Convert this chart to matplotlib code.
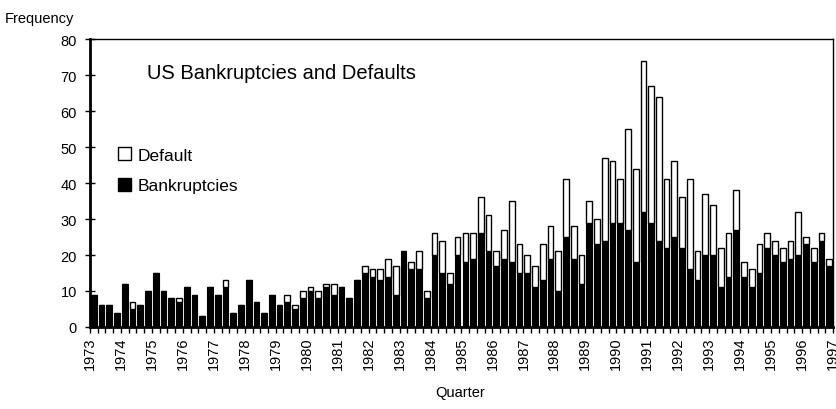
import matplotlib
matplotlib.use("Agg")
import matplotlib.pyplot as plt
from matplotlib.patches import Patch

plt.rcParams["font.family"] = ["Liberation Sans", "DejaVu Sans"]

# Quarterly counts, 1973Q1 .. 1996Q4
years = list(range(1973, 1998))

bankruptcies = [
    9, 6, 6, 4, 12, 5, 6, 10, 15, 10, 8, 7, 11, 9, 3, 11,
    9, 11, 4, 6, 13, 7, 4, 9, 6, 7, 5, 8, 10, 8, 11, 9,
    11, 8, 13, 15, 14, 13, 14, 9, 21, 16, 16, 8, 20, 15, 12, 20,
    18, 19, 26, 21, 17, 19, 18, 15, 15, 11, 13, 19, 10, 25, 19, 12,
    29, 23, 24, 29, 29, 27, 18, 32, 29, 24, 22, 25, 22, 16, 13, 20,
    20, 11, 14, 27, 14, 11, 15, 22, 20, 18, 19, 20, 23, 18, 24, 17,
]

defaults = [
    0, 0, 0, 0, 0, 2, 0, 0, 0, 0, 0, 1, 0, 0, 0, 0,
    0, 2, 0, 0, 0, 0, 0, 0, 0, 2, 1, 2, 1, 2, 1, 3,
    0, 0, 0, 2, 2, 3, 5, 8, 0, 2, 5, 2, 6, 9, 3, 5,
    8, 7, 10, 10, 4, 8, 17, 8, 5, 6, 10, 9, 11, 16, 9, 8,
    6, 7, 23, 17, 12, 28, 26, 42, 38, 40, 19, 21, 14, 25, 8, 17,
    14, 11, 12, 11, 4, 5, 8, 4, 4, 4, 5, 12, 2, 4, 2, 2,
]

n = len(bankruptcies)
x = [i + 0.5 for i in range(n)]

fig = plt.figure(figsize=(8.37, 4.10), dpi=100)
ax = fig.add_axes([90 / 837, 82 / 410, 743 / 837, 288 / 410])

ax.bar(x, bankruptcies, width=0.74, color="black",
       edgecolor="black", linewidth=0.8)
ax.bar(x, defaults, bottom=bankruptcies, width=0.74, color="white",
       edgecolor="black", linewidth=1.0)

ax.set_xlim(0, n)
ax.set_ylim(0, 80)

ax.set_yticks(range(0, 81, 10))
ax.tick_params(axis="y", direction="inout", length=7, width=1,
               labelsize=10.5, pad=6)

ax.set_xticks(range(0, n + 1, 4))
ax.set_xticklabels([str(y) for y in years], rotation=90)
ax.set_xticks(range(0, n + 1), minor=True)
ax.tick_params(axis="x", which="both", direction="out", length=4,
               width=1, labelsize=10.5, pad=3)

ax.spines["left"].set_linewidth(2)
ax.spines["bottom"].set_linewidth(2)
ax.spines["top"].set_linewidth(1)
ax.spines["right"].set_linewidth(1)

ax.text(0.0767, 0.885, "US Bankruptcies and Defaults",
        transform=ax.transAxes, fontsize=14.5, va="center")

handles = [
    Patch(facecolor="white", edgecolor="black", linewidth=1),
    Patch(facecolor="black", edgecolor="black"),
]
ax.legend(handles, ["Default", "Bankruptcies"], loc="upper left",
          bbox_to_anchor=(0.038, 0.624), frameon=False, fontsize=12.5,
          handlelength=0.75, handleheight=0.75, handletextpad=0.35,
          labelspacing=0.88, borderpad=0, borderaxespad=0)

fig.text(5 / 837, 1 - 19 / 410, "Frequency", fontsize=10.5, va="center")
fig.text(460 / 837, 1 - 393 / 410, "Quarter", fontsize=10.5,
         ha="center", va="center")

fig.savefig("out.png", dpi=100)
